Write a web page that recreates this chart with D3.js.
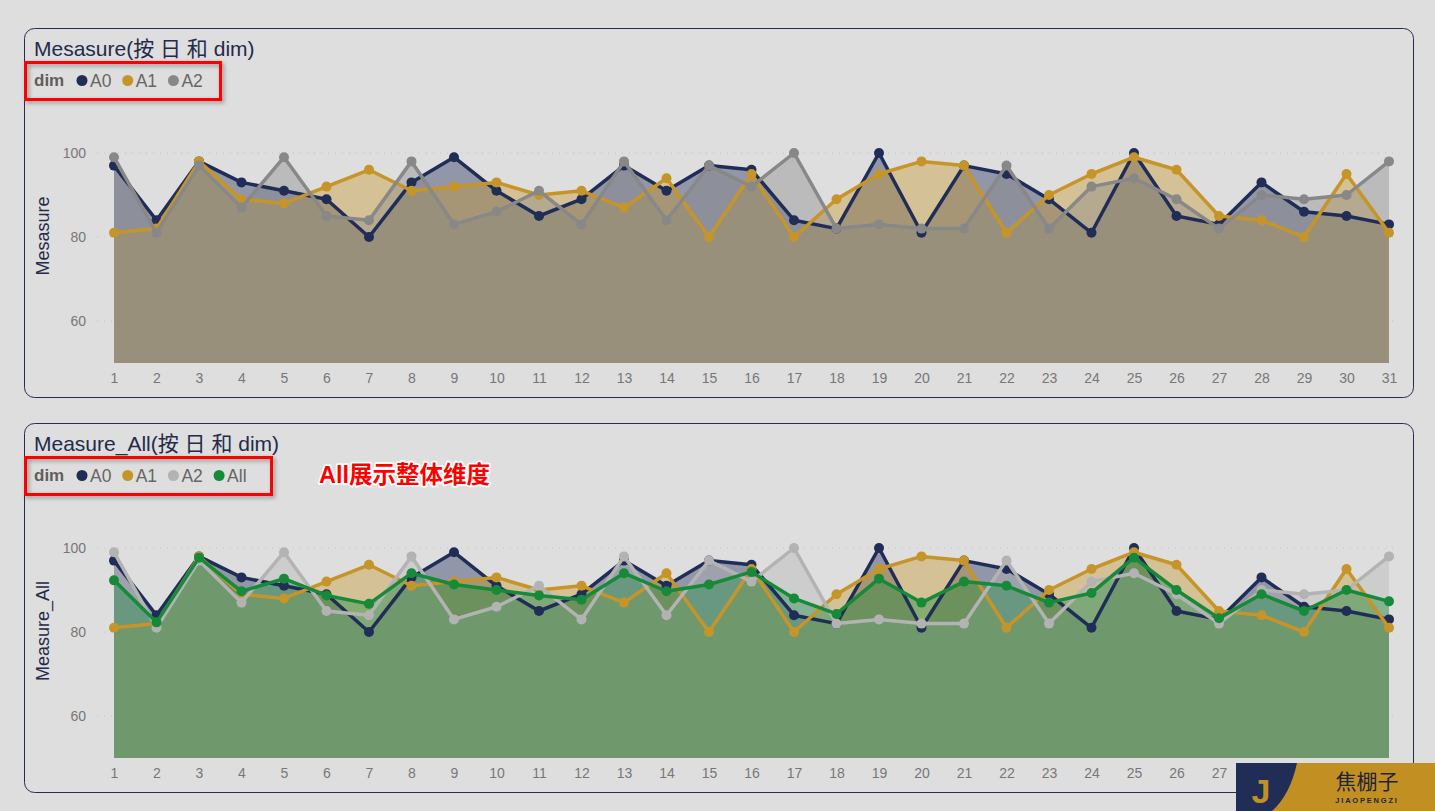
<!DOCTYPE html>
<html><head><meta charset="utf-8">
<script src="https://cdn.jsdelivr.net/npm/d3@7"></script>
<style>
html,body{margin:0;padding:0;background:#dedede;}
svg{display:block;font-family:"Liberation Sans",Arial,"Noto Sans CJK SC",sans-serif;}
</style></head><body>
<svg id="c" width="1435" height="811"></svg>
<script>
const days = d3.range(1, 32);
const a0 = [97,84,98,93,91,89,80,93,99,91,85,89,97,91,97,96,84,82,100,81,97,95,89,81,100,85,83,93,86,85,83];
const a1 = [81,82,98,89,88,92,96,91,92,93,90,91,87,94,80,95,80,89,95,98,97,81,90,95,99,96,85,84,80,95,81];
const a2 = [99,81,97,87,99,85,84,98,83,86,91,83,98,84,97,92,100,82,83,82,82,97,82,92,94,89,82,90,89,90,98];
const allVals = [92.3,82.3,97.7,89.7,92.7,88.7,86.7,94.0,91.3,90.0,88.7,87.7,94.0,89.7,91.3,94.3,88.0,84.3,92.7,87.0,92.0,91.0,87.0,89.3,97.7,90.0,83.3,89.0,85.0,90.0,87.3];
const yTicks = [60, 80, 100];

const svg = d3.select("#c");
const defs = svg.append("defs");
const f = defs.append("filter").attr("id","sh").attr("x","-10%").attr("y","-30%").attr("width","120%").attr("height","160%");
f.append("feDropShadow").attr("dx",2).attr("dy",2).attr("stdDeviation",2).attr("flood-color","#000").attr("flood-opacity",0.35);

function chart(oy, title, yTitle, series, legendW) {
  const g = svg.append("g").attr("transform", `translate(0,${oy})`);
  g.append("rect").attr("x",24.5).attr("y",28.5).attr("width",1389).attr("height",369).attr("rx",10)
    .attr("fill","#dedede").attr("stroke","#252d55").attr("stroke-width",1);
  g.append("text").attr("x",34).attr("y",55.5).attr("font-size",21).attr("fill","#252a4a").text(title);

  const x = d3.scalePoint().domain(days).range([114, 1389]);
  const y = d3.scaleLinear().domain([50, 100]).range([363, 153]);

  g.append("g").selectAll("line").data(yTicks).join("line")
    .attr("x1",97).attr("x2",1395).attr("y1",d=>y(d)).attr("y2",d=>y(d))
    .attr("stroke","#c4c4c4").attr("stroke-width",1).attr("stroke-dasharray","1,6");
  const ya = g.append("g").attr("transform","translate(86,0)")
    .call(d3.axisLeft(y).tickValues(yTicks).tickSize(0).tickPadding(0));
  ya.select(".domain").remove();
  ya.selectAll("text").attr("font-size",14).attr("fill","#777").attr("font-family","inherit");
  const xa = g.append("g").attr("transform","translate(0,370)")
    .call(d3.axisBottom(x).tickSize(0).tickPadding(3));
  xa.select(".domain").remove();
  xa.selectAll("text").attr("font-size",14).attr("fill","#777").attr("font-family","inherit");
  g.append("text").attr("transform",`translate(49,236) rotate(-90)`).attr("text-anchor","middle")
    .attr("font-size",18).attr("fill","#252a4a").text(yTitle);

  const area = d3.area().x((d,i)=>x(days[i])).y0(y(50)).y1(d=>y(d));
  const line = d3.line().x((d,i)=>x(days[i])).y(d=>y(d));
  series.forEach(s => {
    g.append("path").attr("d", area(s.values)).attr("fill", s.color).attr("fill-opacity", 0.4);
  });
  series.forEach(s => {
    g.append("path").attr("d", line(s.values)).attr("fill","none").attr("stroke", s.color)
      .attr("stroke-width",3.5).attr("stroke-linejoin","round");
    g.append("g").selectAll("circle").data(s.values).join("circle")
      .attr("cx",(d,i)=>x(days[i])).attr("cy",d=>y(d)).attr("r",5).attr("fill", s.color);
  });

  const lg = g.append("g");
  lg.append("text").attr("x",34).attr("y",86).attr("font-size",17).attr("font-weight","bold").attr("fill","#605e5c").text("dim");
  series.forEach((s,i) => {
    const cx = 82 + i*45.7;
    lg.append("circle").attr("cx",cx).attr("cy",80.5).attr("r",5.5).attr("fill",s.color);
    lg.append("text").attr("x",cx+8).attr("y",86.5).attr("font-size",17.5).attr("fill","#666").text(s.name);
  });
  g.append("rect").attr("x",25.5).attr("y",62.5).attr("width",legendW).attr("height",37)
    .attr("fill","none").attr("stroke","#ff0000").attr("stroke-width",3).attr("filter","url(#sh)");
  return g;
}

chart(0, "Mesasure(按 日 和 dim)", "Mesasure", [
  {name:"A0", values:a0, color:"#1f2d57"},
  {name:"A1", values:a1, color:"#c6952a"},
  {name:"A2", values:a2, color:"#888888"}
], 195);

chart(395, "Measure_All(按 日 和 dim)", "Measure_All", [
  {name:"A0", values:a0, color:"#1f2d57"},
  {name:"A1", values:a1, color:"#c6952a"},
  {name:"A2", values:a2, color:"#b3b3b3"},
  {name:"All", values:allVals, color:"#178a3a"}
], 246);

svg.append("text").attr("x",319).attr("y",483).attr("font-size",23.5).attr("font-weight","bold")
  .attr("fill","#ff0000").attr("stroke","#ffffff").attr("stroke-width",3.5).attr("paint-order","stroke")
  .attr("stroke-linejoin","round")
  .attr("font-family",'"Liberation Sans","Noto Sans CJK SC",sans-serif').text("All展示整体维度");

// logo
const lo = svg.append("g");
lo.append("rect").attr("x",1236).attr("y",763).attr("width",199).attr("height",48).attr("fill","#c29022");
lo.append("path").attr("d","M1236,763 L1297,763 Q1290,795 1272,811 L1236,811 Z").attr("fill","#1f2d57");
lo.append("text").attr("x",1261).attr("y",803).attr("text-anchor","middle").attr("font-size",34)
  .attr("font-weight","bold").attr("fill","#c29022").text("J");
lo.append("text").attr("x",1367).attr("y",789).attr("text-anchor","middle").attr("font-size",21)
  .attr("fill","#1f2438").attr("font-family",'"Noto Sans CJK SC",sans-serif').text("焦棚子");
lo.append("text").attr("x",1367).attr("y",803).attr("text-anchor","middle").attr("font-size",7.5)
  .attr("font-weight","bold").attr("letter-spacing",1.8).attr("fill","#1f2438").text("JIAOPENGZI");
</script>
</body></html>
